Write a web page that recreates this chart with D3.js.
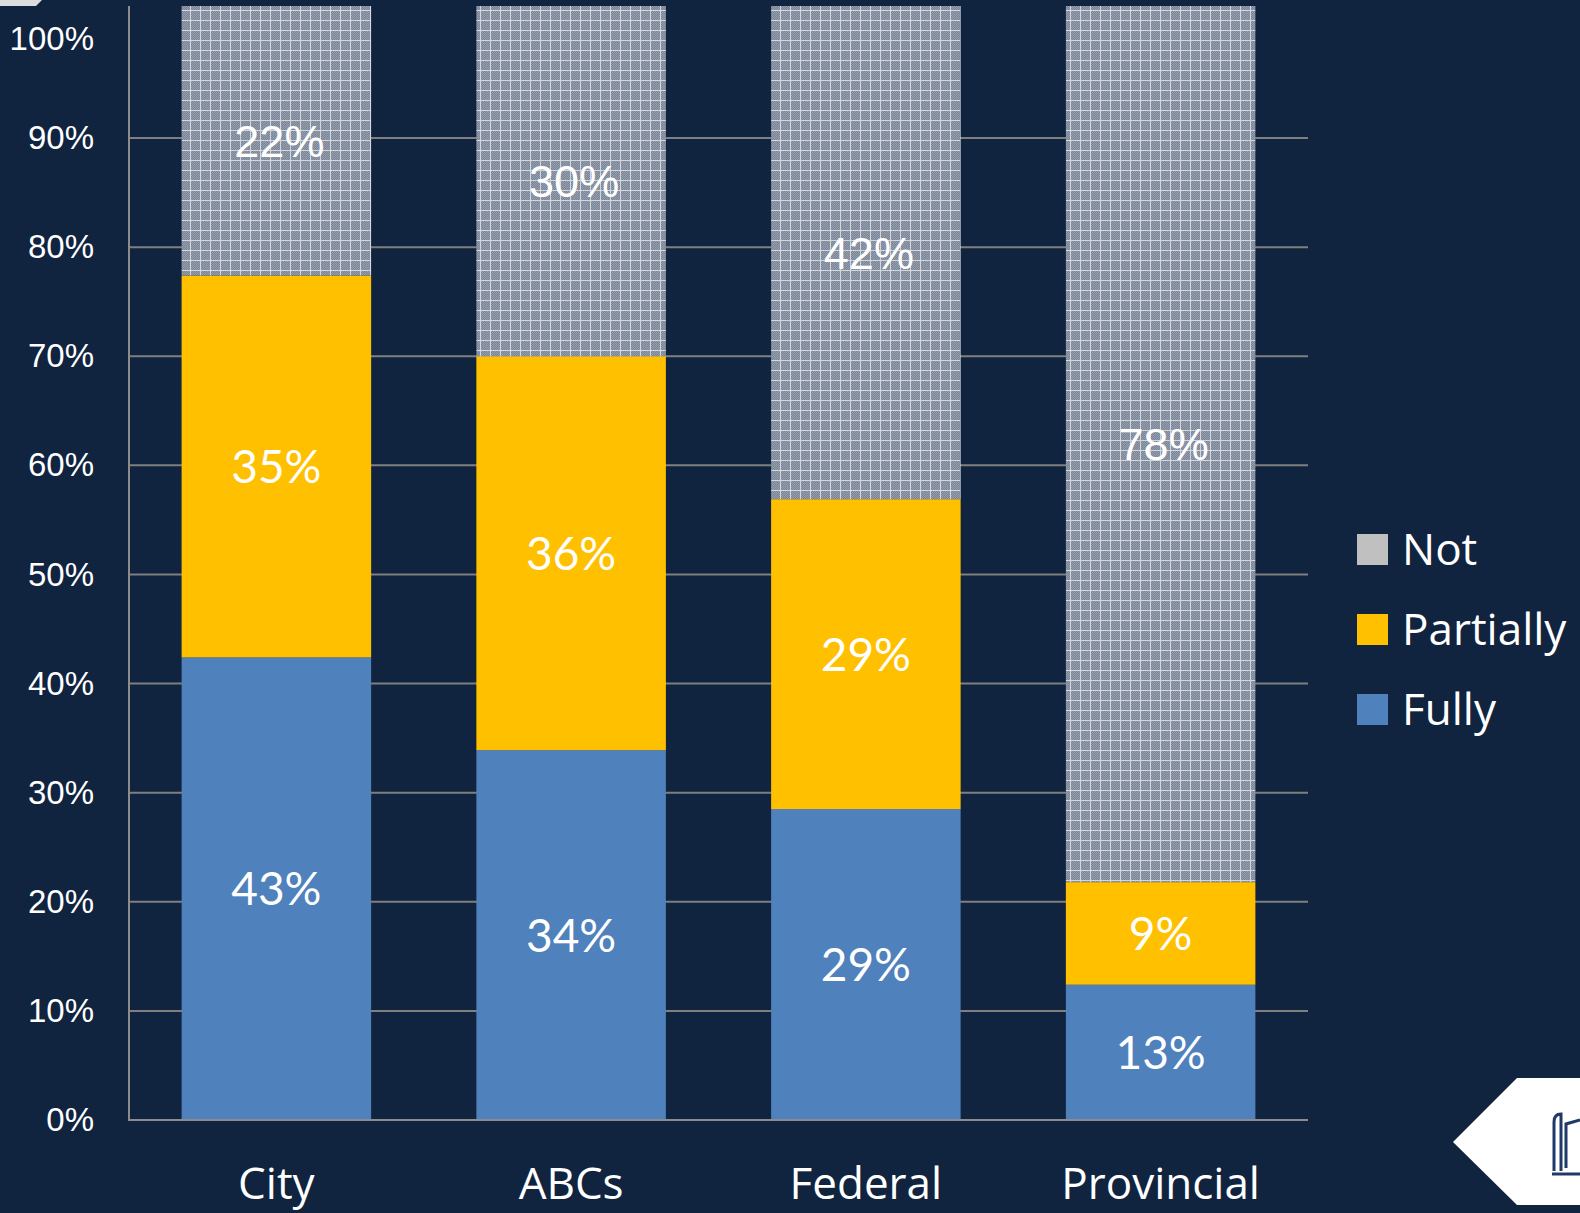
<!DOCTYPE html>
<html>
<head>
<meta charset="utf-8">
<script src="https://cdn.jsdelivr.net/npm/d3@7"></script>
<style>
  body { margin: 0; background: #10233f; }
  svg { display: block; }
</style>
</head>
<body>
<svg width="1580" height="1213"></svg>
<script>
// data (percent)
const categories = ["City", "ABCs", "Federal", "Provincial"];
const fully = [42.4, 33.9, 28.5, 12.4];
const partially = [35.0, 36.1, 28.4, 9.4];
const notVals = [22.6, 30.0, 43.1, 78.2];
const fullyLabels = ["43%", "34%", "29%", "13%"];
const partiallyLabels = ["35%", "36%", "29%", "9%"];
const notLabels = ["22%", "30%", "42%", "78%"];
const yTicks = [0, 10, 20, 30, 40, 50, 60, 70, 80, 90, 100];
const legendNames = ["Not", "Partially", "Fully"];

const colors = { Fully: "#4f81bd", Partially: "#ffc000", Not: "#c0c0c0" };
const labelFont = "Lato, 'Open Sans', sans-serif";
const wideFont = "'Open Sans', 'Noto Sans', sans-serif";
const arialFont = "'Liberation Sans', Arial, sans-serif";

document.addEventListener("DOMContentLoaded", function() {
    const svg = d3.select("svg");
    const width = +svg.attr("width");
    const height = +svg.attr("height");

    svg.append("rect").attr("width", width).attr("height", height).attr("fill", "#10233f");

    const left = 129, right = 1308, top = 6, bottom = 1120;

    const x = d3.scaleBand().domain(categories).range([left, right])
        .paddingInner(0.357).paddingOuter(0.1785);
    const y = d3.scaleLinear().domain([0, 102.1]).range([bottom, top]);

    // hatch pattern for the "Not" segment
    const defs = svg.append("defs");
    const pat = defs.append("pattern")
        .attr("id", "notPat")
        .attr("patternUnits", "userSpaceOnUse")
        .attr("width", 10).attr("height", 10);
    pat.append("rect").attr("width", 10).attr("height", 10).attr("fill", "#7a8597");
    for (let i = 0; i < 10; i++) {
        for (let j = 0; j < 10; j++) {
            if ((i + j) % 2 === 0) {
                pat.append("rect").attr("x", i).attr("y", j).attr("width", 1).attr("height", 1).attr("fill", "#949eac");
            }
        }
    }
    pat.append("rect").attr("x", 0).attr("y", 0).attr("width", 10).attr("height", 1).attr("fill", "#d4d8de");
    pat.append("rect").attr("x", 0).attr("y", 0).attr("width", 1).attr("height", 10).attr("fill", "#d4d8de");

    // gridlines
    svg.append("g").selectAll("line")
        .data(yTicks.filter(t => t > 0 && t < 100))
        .enter().append("line")
        .attr("x1", left).attr("x2", right)
        .attr("y1", d => y(d)).attr("y2", d => y(d))
        .attr("stroke", "#7f7f7f").attr("stroke-width", 2);

    const rows = categories.map((c, i) => ({
        cat: c,
        fully: fully[i], partially: partially[i], not: notVals[i],
        fl: fullyLabels[i], pl: partiallyLabels[i], nl: notLabels[i]
    }));

    const bars = svg.append("g");
    // Fully
    bars.selectAll("rect.fully").data(rows).enter().append("rect")
        .attr("class", "fully")
        .attr("x", d => x(d.cat)).attr("width", x.bandwidth())
        .attr("y", d => y(d.fully)).attr("height", d => y(0) - y(d.fully))
        .attr("fill", colors.Fully);
    // Partially
    bars.selectAll("rect.partially").data(rows).enter().append("rect")
        .attr("class", "partially")
        .attr("x", d => x(d.cat)).attr("width", x.bandwidth())
        .attr("y", d => y(d.fully + d.partially)).attr("height", d => y(d.fully) - y(d.fully + d.partially))
        .attr("fill", colors.Partially);
    // Not (runs to the top of the plot)
    bars.selectAll("rect.not").data(rows).enter().append("rect")
        .attr("class", "not")
        .attr("x", d => x(d.cat)).attr("width", x.bandwidth())
        .attr("y", top).attr("height", d => y(d.fully + d.partially) - top)
        .attr("fill", "url(#notPat)");

    // axis lines
    svg.append("line").attr("x1", left).attr("x2", left).attr("y1", top).attr("y2", bottom)
        .attr("stroke", "#8c8c8c").attr("stroke-width", 2);
    svg.append("line").attr("x1", left - 1).attr("x2", right).attr("y1", bottom).attr("y2", bottom)
        .attr("stroke", "#8c8c8c").attr("stroke-width", 2);

    // y axis labels
    const yAxis = svg.append("g")
        .attr("transform", `translate(${left},0)`)
        .call(d3.axisLeft(y).tickValues(yTicks).tickSize(0).tickPadding(35).tickFormat(d => d + "%"));
    yAxis.select(".domain").remove();
    yAxis.selectAll("text")
        .attr("fill", "#ffffff")
        .style("font-family", arialFont)
        .style("font-size", "33px");
    // top label sits a little below its tick in the original
    yAxis.selectAll(".tick").filter(d => d === 100).select("text").attr("y", 10);

    // x axis labels
    svg.append("g").selectAll("text").data(categories).enter().append("text")
        .attr("x", d => x(d) + x.bandwidth() / 2)
        .attr("y", 1199)
        .attr("text-anchor", "middle")
        .attr("fill", "#ffffff")
        .style("font-family", wideFont)
        .style("font-size", "44px")
        .text(d => d);

    // data labels
    const lab = svg.append("g").attr("fill", "#ffffff").attr("text-anchor", "middle");
    lab.selectAll("text.fl").data(rows).enter().append("text")
        .attr("x", d => x(d.cat) + x.bandwidth() / 2)
        .attr("y", d => (y(0) + y(d.fully)) / 2)
        .attr("dy", "0.36em")
        .style("font-family", labelFont).style("font-size", "46px")
        .text(d => d.fl);
    lab.selectAll("text.pl").data(rows).enter().append("text")
        .attr("x", d => x(d.cat) + x.bandwidth() / 2)
        .attr("y", d => (y(d.fully) + y(d.fully + d.partially)) / 2)
        .attr("dy", "0.36em")
        .style("font-family", labelFont).style("font-size", "46px")
        .text(d => d.pl);
    lab.selectAll("text.nl").data(rows).enter().append("text")
        .attr("x", d => x(d.cat) + x.bandwidth() / 2 + 3)
        .attr("y", d => (y(d.fully + d.partially) + top) / 2)
        .attr("dy", "0.36em")
        .style("font-family", arialFont).style("font-size", "45px")
        .text(d => d.nl);

    // legend
    const legend = svg.append("g").attr("transform", "translate(1357,549)");
    const item = legend.selectAll("g").data(legendNames).enter().append("g")
        .attr("transform", (d, i) => `translate(0,${i * 80})`);
    item.append("rect")
        .attr("x", 0).attr("y", -15).attr("width", 31).attr("height", 31)
        .attr("fill", d => colors[d]);
    item.append("text")
        .attr("x", 45).attr("y", 0).attr("dy", "0.36em")
        .attr("fill", "#ffffff")
        .style("font-family", wideFont).style("font-size", "44px")
        .text(d => d);

    // slide decorations
    svg.append("polygon").attr("points", "0,0 42,0 36,6 0,6").attr("fill", "#dcdcdc");
    svg.append("polygon").attr("points", "1453,1142 1517,1078 1580,1078 1580,1205 1517,1205").attr("fill", "#ffffff");
    const icon = svg.append("g").attr("fill", "none").attr("stroke", "#1f3a68").attr("stroke-width", 3);
    icon.append("path").attr("d", "M1554,1171 V1122 Q1554,1114 1561,1114 V1171");
    icon.append("path").attr("d", "M1566,1168 V1124 L1580,1120");
    icon.append("path").attr("d", "M1552,1174 H1580");
});
</script>
</body>
</html>
